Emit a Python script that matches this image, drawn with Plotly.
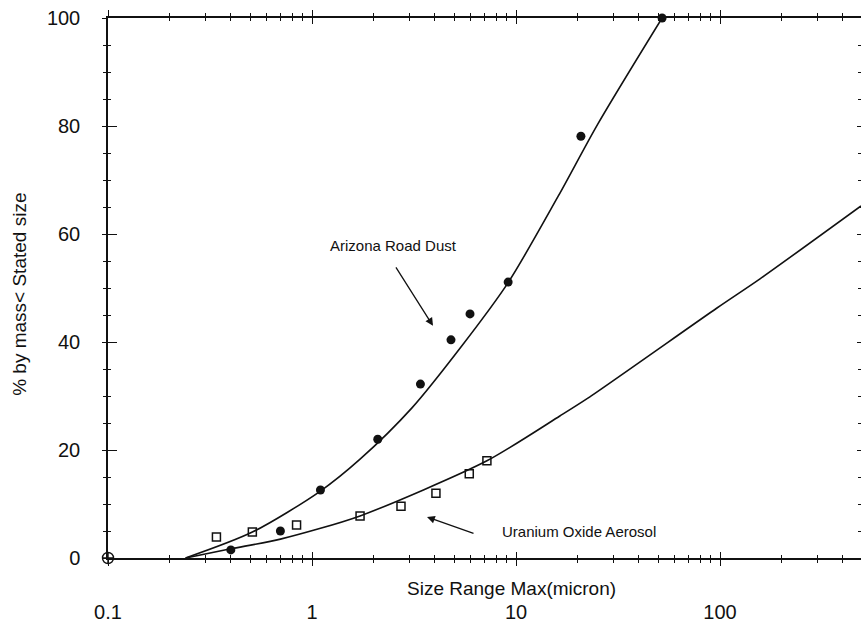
import plotly.graph_objects as go

# Measured particle size distributions (cumulative % by mass below size)
dust_size = [0.4, 0.7, 1.1, 2.1, 3.4, 4.8, 5.95, 9.15, 20.8, 52]
dust_pct = [1.5, 5.0, 12.6, 22.0, 32.2, 40.4, 45.2, 51.1, 78.1, 100]

oxide_size = [0.34, 0.51, 0.84, 1.72, 2.73, 4.05, 5.9, 7.2]
oxide_pct = [3.9, 4.8, 6.1, 7.8, 9.6, 12.0, 15.6, 18.0]

origin_size = [0.1]
origin_pct = [0]

# Smooth fitted curves
dust_fit_size = [0.24, 0.51, 1.1, 1.72, 3.09, 5.43, 9.15, 16.1, 25.2, 52]
dust_fit_pct = [0, 4.8, 12.4, 18.3, 27.8, 39.3, 51.0, 67.0, 80.4, 100]

oxide_fit_size = [0.24, 0.4, 0.7, 1.72, 7.2, 16.4, 22.5, 96.6, 157, 491]
oxide_fit_pct = [0, 1.7, 3.5, 7.8, 18.0, 26.3, 29.6, 46.3, 51.7, 65.2]

# Axis ticks
x_major = [0.1, 1, 10, 100]
x_major_text = ["0.1", "1", "10", "100"]
x_minor = [m * d for d in (0.1, 1, 10, 100) for m in range(2, 10)]
y_major = [0, 20, 40, 60, 80, 100]
y_major_text = ["0", "20", "40", "60", "80", "100"]

INK = "#111111"
FONT = "Liberation Sans, Arial, sans-serif"

fig = go.Figure()

fig.add_trace(go.Scatter(
    x=dust_fit_size, y=dust_fit_pct, mode="lines",
    line=dict(color=INK, width=1.6, shape="spline", smoothing=0.8),
    cliponaxis=False, showlegend=False, hoverinfo="skip"))
fig.add_trace(go.Scatter(
    x=oxide_fit_size, y=oxide_fit_pct, mode="lines",
    line=dict(color=INK, width=1.6, shape="spline", smoothing=0.7),
    cliponaxis=False, showlegend=False, hoverinfo="skip"))
fig.add_trace(go.Scatter(
    x=dust_size, y=dust_pct, mode="markers", name="Arizona Road Dust",
    marker=dict(symbol="circle", size=9, color=INK),
    cliponaxis=False, showlegend=False))
fig.add_trace(go.Scatter(
    x=oxide_size, y=oxide_pct, mode="markers", name="Uranium Oxide Aerosol",
    marker=dict(symbol="square-open", size=8, color=INK, line=dict(width=1.5)),
    cliponaxis=False, showlegend=False))
fig.add_trace(go.Scatter(
    x=origin_size, y=origin_pct, mode="markers",
    marker=dict(symbol="circle-cross-open", size=11, color=INK, line=dict(width=1.4)),
    cliponaxis=False, showlegend=False))

# Empty traces so the overlay axes are drawn
for xa, ya in (("x2", "y"), ("x3", "y"), ("x4", "y"), ("x", "y2"), ("x", "y3")):
    fig.add_trace(go.Scatter(x=[None], y=[None], xaxis=xa, yaxis=ya,
                             showlegend=False, hoverinfo="skip"))

X_RANGE = [-1, 2.691]
Y_RANGE = [0, 100]

common_x = dict(type="log", range=X_RANGE, showgrid=False, zeroline=False,
                automargin=False, tickvals=x_major, tickcolor=INK, tickwidth=1.2)
common_y = dict(range=Y_RANGE, showgrid=False, zeroline=False,
                automargin=False, tickvals=y_major, tickcolor=INK, tickwidth=1.2)

fig.update_layout(
    width=861, height=622,
    margin=dict(l=108, r=0, t=18, b=64),
    paper_bgcolor="white", plot_bgcolor="white",
    font=dict(family=FONT, color=INK),
    xaxis=dict(**common_x, ticktext=x_major_text, side="bottom", anchor="y",
               showline=True, linecolor=INK, linewidth=1.5,
               ticks="outside", ticklen=6, ticklabelstandoff=29,
               tickfont=dict(size=20, family=FONT, color=INK),
               minor=dict(tickvals=x_minor, ticks="outside", ticklen=3,
                          tickcolor=INK, tickwidth=1.2)),
    xaxis3=dict(**common_x, overlaying="x", side="bottom", anchor="y",
                showline=False, showticklabels=False,
                ticks="inside", ticklen=6,
                minor=dict(tickvals=x_minor, ticks="inside", ticklen=3,
                           tickcolor=INK, tickwidth=1.2)),
    xaxis2=dict(**common_x, overlaying="x", side="top", anchor="y",
                showline=True, linecolor=INK, linewidth=1.5,
                showticklabels=False, ticks="outside", ticklen=6,
                minor=dict(tickvals=x_minor, ticks="outside", ticklen=3,
                           tickcolor=INK, tickwidth=1.2)),
    xaxis4=dict(**common_x, overlaying="x", side="top", anchor="y",
                showline=False, showticklabels=False,
                ticks="inside", ticklen=6,
                minor=dict(tickvals=x_minor, ticks="inside", ticklen=3,
                           tickcolor=INK, tickwidth=1.2)),
    yaxis=dict(**common_y, ticktext=y_major_text, side="left", anchor="x",
               showline=True, linecolor=INK, linewidth=1.5,
               ticks="outside", ticklen=4, ticklabelstandoff=18,
               tickfont=dict(size=20, family=FONT, color=INK),
               minor=dict(dtick=5, ticks="outside", ticklen=3,
                          tickcolor=INK, tickwidth=1.2)),
    yaxis3=dict(**common_y, overlaying="y", side="left", anchor="x",
                showline=False, showticklabels=False,
                ticks="inside", ticklen=9,
                minor=dict(dtick=5, ticks="inside", ticklen=3,
                           tickcolor=INK, tickwidth=1.2)),
    yaxis2=dict(**common_y, overlaying="y", side="right", anchor="x",
                showline=False, showticklabels=False,
                ticks="inside", ticklen=4,
                minor=dict(dtick=5, ticks="inside", ticklen=3,
                           tickcolor=INK, tickwidth=1.2)),
)

# Axis titles
fig.add_annotation(text="Size Range Max(micron)", xref="paper", yref="paper",
                   x=0.5365, y=-0.0556, xanchor="center", yanchor="middle",
                   showarrow=False, font=dict(size=19, family=FONT, color=INK))
fig.add_annotation(text="% by mass< Stated size", xref="paper", yref="paper",
                   x=-0.117, y=0.489, xanchor="center", yanchor="middle",
                   textangle=-90, showarrow=False,
                   font=dict(size=19, family=FONT, color=INK))

# Series labels with arrows (x positions are log10 of the size)
fig.add_annotation(text="Arizona Road Dust", x=0.397, y=57.8, xref="x", yref="y",
                   xanchor="center", yanchor="middle", showarrow=False,
                   font=dict(size=15, family=FONT, color=INK))
fig.add_annotation(text="Uranium Oxide Aerosol", x=1.309, y=5.0, xref="x", yref="y",
                   xanchor="center", yanchor="middle", showarrow=False,
                   font=dict(size=15, family=FONT, color=INK))
fig.add_annotation(text="", x=0.593, y=43.0, xref="x", yref="y",
                   ax=-38, ay=-60, showarrow=True, arrowhead=2, arrowsize=1.2,
                   arrowwidth=1.3, arrowcolor=INK)
fig.add_annotation(text="", x=0.5637, y=7.6, xref="x", yref="y",
                   ax=48, ay=17, showarrow=True, arrowhead=2, arrowsize=1.2,
                   arrowwidth=1.3, arrowcolor=INK)

fig.write_html("out.html")
